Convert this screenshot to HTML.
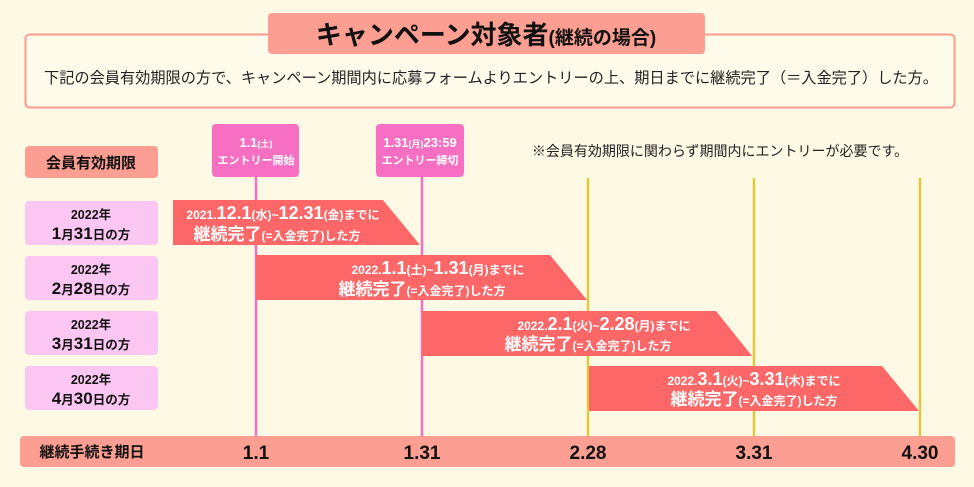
<!DOCTYPE html>
<html><head><meta charset="utf-8"><style>
html,body{margin:0;padding:0;background:#fef9e5;}
svg{display:block;font-family:"Liberation Sans","Noto Sans CJK JP",sans-serif;}
.b{font-weight:bold;}
</style></head><body>
<svg width="974" height="487" viewBox="0 0 974 487" xmlns="http://www.w3.org/2000/svg">
<rect width="974" height="487" fill="#fef9e5"/>
<rect x="25.5" y="34.5" width="929" height="73" rx="4" fill="#fffbea" stroke="#fb9a91" stroke-width="2"/>
<rect x="268" y="13" width="437" height="41" rx="4" fill="#fc9e92"/>
<text x="486" y="44" text-anchor="middle" class="b" font-size="26" fill="#111">キャンペーン対象者<tspan font-size="19">(継続の場合)</tspan></text>
<text x="491" y="83" text-anchor="middle" font-size="15.2" fill="#222">下記の会員有効期限の方で、キャンペーン期間内に応募フォームよりエントリーの上、期日までに継続完了（＝入金完了）した方。</text>
<text x="720" y="156" text-anchor="middle" font-size="14" fill="#222">※会員有効期限に関わらず期間内にエントリーが必要です。</text>
<rect x="25" y="146" width="133" height="32" rx="4" fill="#fc9e92"/>
<text x="91" y="168" text-anchor="middle" class="b" font-size="15" fill="#111">会員有効期限</text>
<g fill="#fbc6f2">
<rect x="25" y="201" width="133" height="44" rx="4"/>
<rect x="25" y="256" width="133" height="44" rx="4"/>
<rect x="25" y="311" width="133" height="44" rx="4"/>
<rect x="25" y="366" width="133" height="44" rx="4"/>
</g>
<g class="b" fill="#111" text-anchor="middle" font-size="12.5">
<text x="91" y="219">2022年</text><text x="91" y="239"><tspan font-size="17">1</tspan>月<tspan font-size="17">31</tspan>日の方</text>
<text x="91" y="274">2022年</text><text x="91" y="294"><tspan font-size="17">2</tspan>月<tspan font-size="17">28</tspan>日の方</text>
<text x="91" y="329">2022年</text><text x="91" y="349"><tspan font-size="17">3</tspan>月<tspan font-size="17">31</tspan>日の方</text>
<text x="91" y="384">2022年</text><text x="91" y="404"><tspan font-size="17">4</tspan>月<tspan font-size="17">30</tspan>日の方</text>
</g>
<g stroke="#e2c93c" stroke-width="2.5">
<line x1="588" y1="178" x2="588" y2="437"/><line x1="754" y1="178" x2="754" y2="437"/><line x1="920" y1="178" x2="920" y2="437"/>
</g>
<g stroke="#f56fc4" stroke-width="2.5">
<line x1="256" y1="176" x2="256" y2="437"/><line x1="422" y1="176" x2="422" y2="437"/>
</g>
<rect x="212" y="124" width="87" height="53" rx="4" fill="#f76fc3"/>
<rect x="376" y="124" width="88" height="53" rx="4" fill="#f76fc3"/>
<g class="b" fill="#fff" text-anchor="middle" font-size="11">
<text x="256" y="147"><tspan font-size="13">1.1</tspan><tspan font-size="9">(土)</tspan></text>
<text x="256" y="164">エントリー開始</text>
<text x="420" y="147"><tspan font-size="13">1.31</tspan><tspan font-size="9">(月)</tspan><tspan font-size="13">23:59</tspan></text>
<text x="420" y="164">エントリー締切</text>
</g>
<g fill="#fd6767">
<polygon points="173,200 383,200 420,245 173,245"/>
<polygon points="256,255 550,255 587,300 256,300"/>
<polygon points="422,311 716,311 752,356 422,356"/>
<polygon points="589,366 882,366 919,411 589,411"/>
</g>
<g class="b" fill="#fff" font-size="12" text-anchor="middle">
<text x="283" y="219">2021.<tspan font-size="18">12.1</tspan>(水)~<tspan font-size="18">12.31</tspan>(金)までに</text>
<text x="277" y="240"><tspan font-size="17">継続完了</tspan>(=入金完了)した方</text>
<text x="438" y="274">2022.<tspan font-size="18">1.1</tspan>(土)~<tspan font-size="18">1.31</tspan>(月)までに</text>
<text x="422" y="295"><tspan font-size="17">継続完了</tspan>(=入金完了)した方</text>
<text x="604" y="330">2022.<tspan font-size="18">2.1</tspan>(火)~<tspan font-size="18">2.28</tspan>(月)までに</text>
<text x="588" y="350"><tspan font-size="17">継続完了</tspan>(=入金完了)した方</text>
<text x="754" y="385">2022.<tspan font-size="18">3.1</tspan>(火)~<tspan font-size="18">3.31</tspan>(木)までに</text>
<text x="754" y="405"><tspan font-size="17">継続完了</tspan>(=入金完了)した方</text>
</g>
<rect x="20" y="436" width="935" height="31" rx="4" fill="#fc9e92"/>
<g class="b" fill="#111" font-size="19" text-anchor="middle">
<text x="92" y="457" font-size="15">継続手続き期日</text>
<text x="256" y="459">1.1</text>
<text x="422" y="459">1.31</text>
<text x="588" y="459">2.28</text>
<text x="754" y="459">3.31</text>
<text x="920" y="459">4.30</text>
</g>
</svg>
</body></html>
